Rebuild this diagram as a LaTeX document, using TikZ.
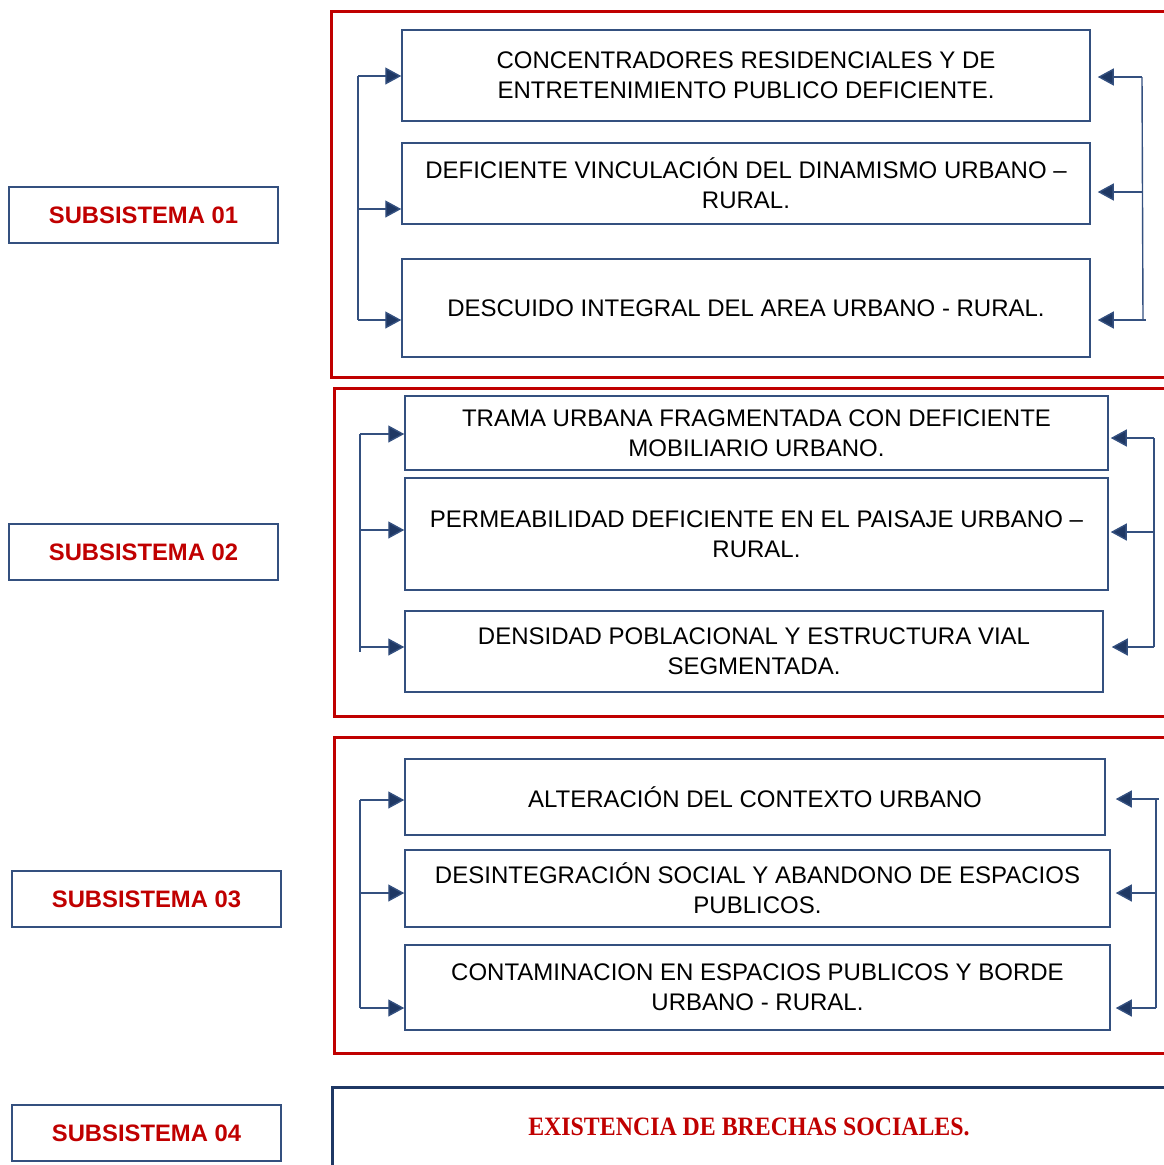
\documentclass[tikz,border=0pt]{standalone}
\usepackage{fontspec}
\setmainfont{Liberation Sans}
\newfontfamily\serifbold{Liberation Serif}
\usetikzlibrary{arrows.meta}
\definecolor{redline}{HTML}{C00000}
\definecolor{navy}{HTML}{1F3864}
\definecolor{boxline}{HTML}{34507F}
\begin{document}
\begin{tikzpicture}[x=1pt,y=-1pt,
  item/.style={draw=boxline,line width=1.5pt,inner sep=0pt,align=center,font=\fontsize{24}{30}\selectfont},
  subsys/.style={draw=boxline,line width=1.5pt,minimum width=269pt,minimum height=56pt,inner sep=0pt,text=redline,font=\fontsize{23.8}{26}\selectfont\bfseries},
  frame/.style={draw=redline,line width=3pt},
  link/.style={draw=boxline,line width=1.4pt},
  arr/.style={link,-{Triangle[length=16pt,width=17pt,fill=navy]}}
]
\useasboundingbox (0,0) rectangle (1164,1165);

% subsystem labels
\node[subsys] (s1) at (143.5,215) {SUBSISTEMA 01};
\node[subsys] (s2) at (143.5,552) {SUBSISTEMA 02};
\node[subsys] (s3) at (146.5,899) {SUBSISTEMA 03};
\node[subsys] (s4) at (146.5,1133) {SUBSISTEMA 04};

% red frames (open on the right, cut by page edge)
\draw[frame] (1170,11) -- (331,11) -- (331,377) -- (1170,377);
\draw[frame] (1170,388) -- (334,388) -- (334,716) -- (1170,716);
\draw[frame] (1170,737) -- (334,737) -- (334,1053) -- (1170,1053);
\draw[draw=navy,line width=3pt] (1170,1087) -- (332,1087) -- (332,1170);

% group 1
\node[item,minimum width=688pt,minimum height=91pt] (a1) at (746,75.5) {CONCENTRADORES RESIDENCIALES Y DE\\ENTRETENIMIENTO PUBLICO DEFICIENTE.};
\node[item,minimum width=688pt,minimum height=81pt] (a2) at (746,183.5) {DEFICIENTE VINCULACIÓN DEL DINAMISMO URBANO –\\RURAL.};
\node[item,minimum width=688pt,minimum height=98pt] (a3) at (746,308) {DESCUIDO INTEGRAL DEL AREA URBANO - RURAL.};

\coordinate (l1t) at (358,76);
\coordinate (l1m) at (358,209);
\coordinate (l1b) at (358,320);
\draw[link] (l1t) -- (l1b);
\draw[arr] (l1t) -- (l1t -| a1.west);
\draw[arr] (l1m) -- (l1m -| a2.west);
\draw[arr] (l1b) -- (l1b -| a3.west);

\coordinate (r1t) at (1142,77);
\coordinate (r1m) at (1142,192);
\coordinate (r1b) at (1143,320);
\coordinate (r1x) at (1146,320);
\draw[link] (r1t) -- (r1b);
\draw[link] (r1b) -- (r1x);
\draw[arr] (r1t) -- ([xshift=7pt]r1t -| a1.east);
\draw[arr] (r1m) -- ([xshift=7pt]r1m -| a2.east);
\draw[arr] (r1b) -- ([xshift=7pt]r1b -| a3.east);

% group 2
\node[item,minimum width=703pt,minimum height=74pt] (b1) at (756.5,433) {TRAMA URBANA FRAGMENTADA CON DEFICIENTE\\MOBILIARIO URBANO.};
\node[item,minimum width=703pt,minimum height=112pt] (b2) at (756.5,534) {PERMEABILIDAD DEFICIENTE EN EL PAISAJE URBANO –\\RURAL.};
\node[item,minimum width=698pt,minimum height=81pt] (b3) at (754,651.5) {DENSIDAD POBLACIONAL Y ESTRUCTURA VIAL\\SEGMENTADA.};

\coordinate (l2t) at (360,434);
\coordinate (l2m) at (360,530);
\coordinate (l2b) at (360,647);
\coordinate (l2x) at (360,652);
\draw[link] (l2t) -- (l2x);
\draw[arr] (l2t) -- (l2t -| b1.west);
\draw[arr] (l2m) -- (l2m -| b2.west);
\draw[arr] (l2b) -- (l2b -| b3.west);

\coordinate (r2t) at (1154,438);
\coordinate (r2m) at (1154,532);
\coordinate (r2b) at (1154,647);
\draw[link] (r2t) -- (r2b);
\draw[arr] (r2t) -- ([xshift=2pt]r2t -| b1.east);
\draw[arr] (r2m) -- ([xshift=2pt]r2m -| b2.east);
\draw[arr] (r2b) -- ([xshift=8pt]r2b -| b3.east);

% group 3
\node[item,minimum width=700pt,minimum height=76pt] (c1) at (755,797) {ALTERACIÓN DEL CONTEXTO URBANO};
\node[item,minimum width=705pt,minimum height=77pt] (c2) at (757.5,888.5) {DESINTEGRACIÓN SOCIAL Y ABANDONO DE ESPACIOS\\PUBLICOS.};
\node[item,minimum width=705pt,minimum height=85pt] (c3) at (757.5,987.5) {CONTAMINACION EN ESPACIOS PUBLICOS Y BORDE\\URBANO - RURAL.};

\coordinate (l3t) at (360,800);
\coordinate (l3m) at (360,893);
\coordinate (l3b) at (360,1008);
\draw[link] (l3t) -- (l3b);
\draw[arr] (l3t) -- (l3t -| c1.west);
\draw[arr] (l3m) -- (l3m -| c2.west);
\draw[arr] (l3b) -- (l3b -| c3.west);

\coordinate (r3t) at (1156,799);
\coordinate (r3m) at (1156,893);
\coordinate (r3b) at (1156,1008);
\coordinate (r3x) at (1159,799);
\draw[link] (r3t) -- (r3b);
\draw[link] (r3t) -- (r3x);
\draw[arr] (r3t) -- ([xshift=10pt]r3t -| c1.east);
\draw[arr] (r3m) -- ([xshift=5pt]r3m -| c2.east);
\draw[arr] (r3b) -- ([xshift=5pt]r3b -| c3.east);

% group 4
\node[text=redline,font=\serifbold\fontsize{26.5}{28}\selectfont\bfseries,xscale=0.9] (d1) at (749,1127) {EXISTENCIA DE BRECHAS SOCIALES.};
\end{tikzpicture}
\end{document}
